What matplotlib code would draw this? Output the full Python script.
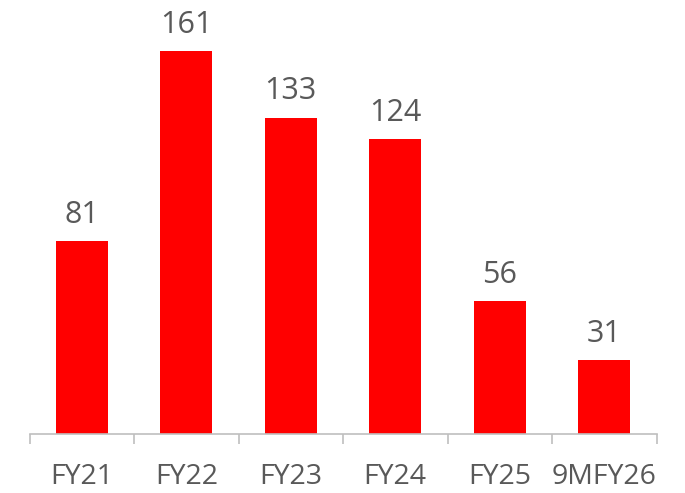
import matplotlib
matplotlib.use("Agg")
import matplotlib.pyplot as plt

categories = ["FY21", "FY22", "FY23", "FY24", "FY25", "9MFY26"]
values = [81, 161, 133, 124, 56, 31]

plt.rcParams['font.family'] = ['Open Sans', 'DejaVu Sans']

W, H = 685, 493
fig = plt.figure(figsize=(W/100, H/100), dpi=100)
x0, x1 = 29.5, 656.5
yb = 434
ax = fig.add_axes([x0/W, 1 - yb/H, (x1-x0)/W, yb/H])
scale = 383/161
ax.set_ylim(0, yb/scale)
ax.set_xlim(-0.5, len(categories) - 0.5)

xs = list(range(len(categories)))
ax.bar(xs, values, width=0.5, color='#ff0000')
for x, v in zip(xs, values):
    ax.annotate(str(v), (x, v), xytext=(0, 8), textcoords='offset points',
                ha='center', va='bottom', fontsize=22, color='#595959')

for s in ['top', 'right', 'left']:
    ax.spines[s].set_visible(False)
ax.spines['bottom'].set_color('#bfbfbf')
ax.spines['bottom'].set_linewidth(1.2)
ax.set_yticks([])
ax.set_xticks([i - 0.5 for i in range(len(categories) + 1)], minor=False)
ax.set_xticklabels([])
ax.tick_params(axis='x', which='major', length=7.5, width=1.2, color='#bfbfbf')
ax.set_xticks(xs, minor=True)
ax.set_xticklabels(categories, minor=True)
ax.tick_params(axis='x', which='minor', length=0, pad=21, labelsize=20.5, labelcolor='#595959')

fig.savefig("out.png", dpi=100)
